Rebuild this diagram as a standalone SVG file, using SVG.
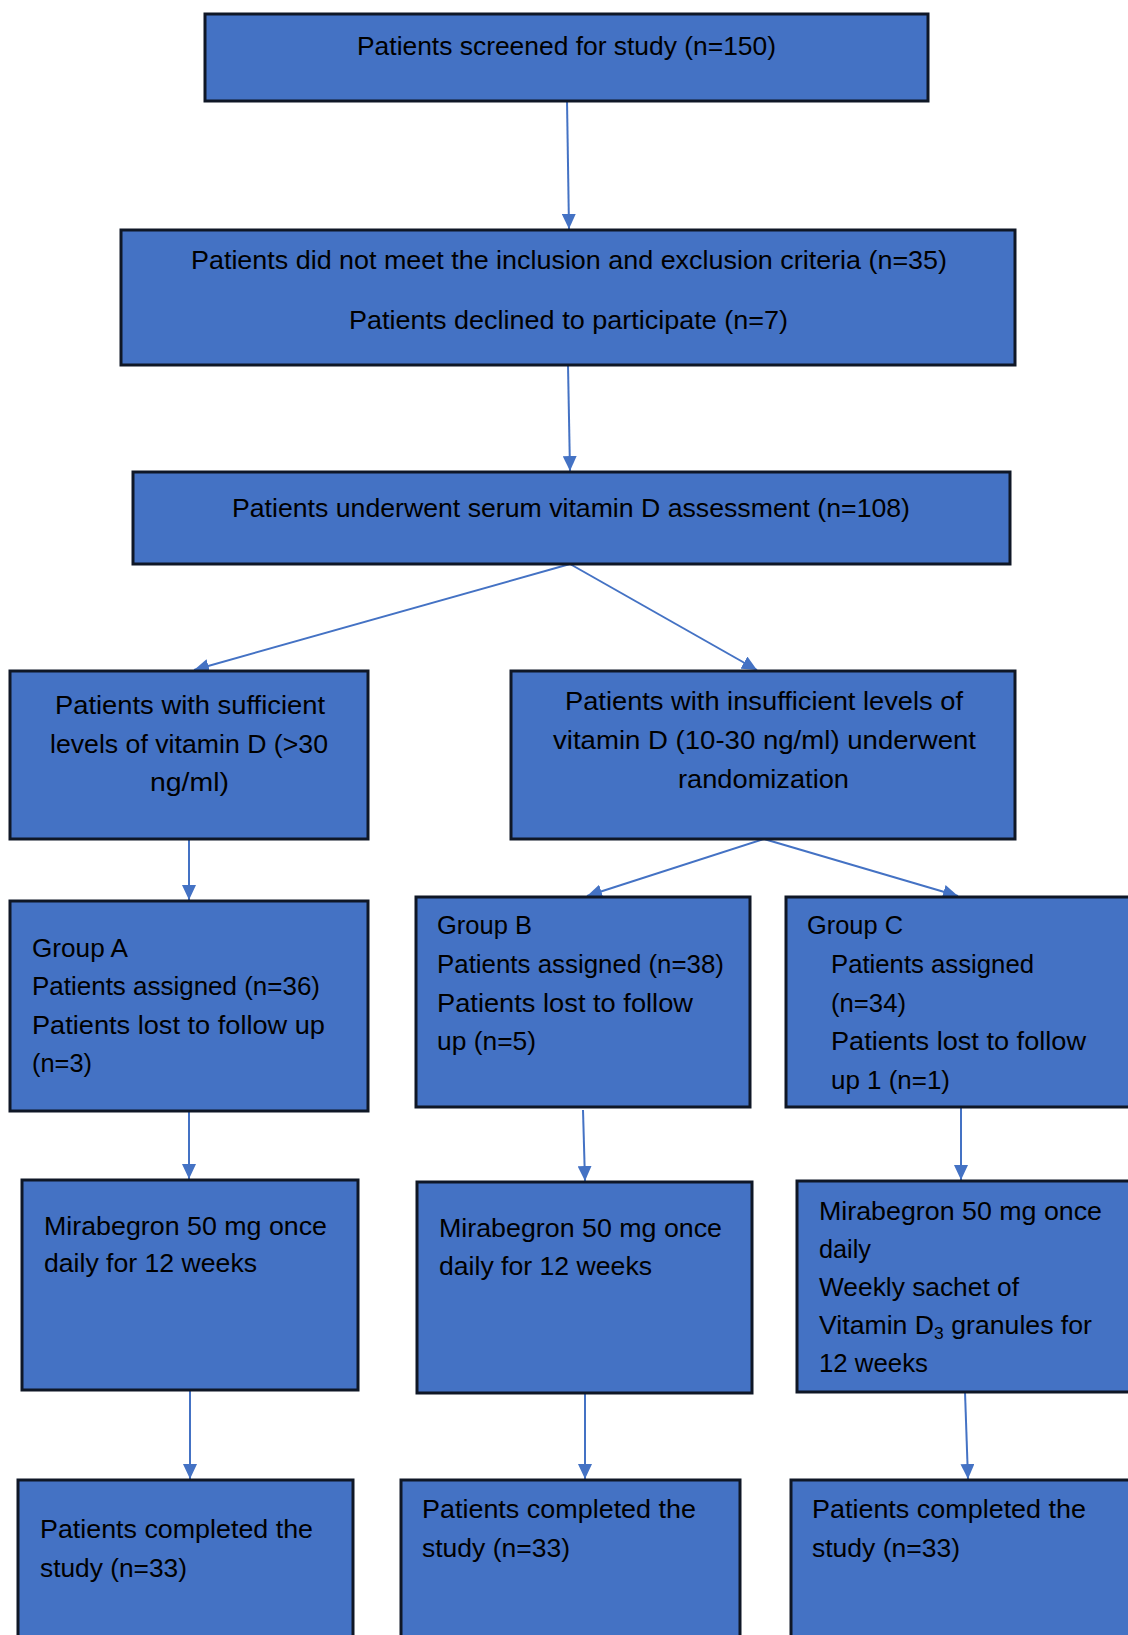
<svg xmlns="http://www.w3.org/2000/svg" width="1128" height="1635" viewBox="0 0 1128 1635">
<style>
.box{fill:#4472C4;stroke:#0f1726;stroke-width:3}
.t{font-family:"Liberation Sans",Arial,sans-serif;font-size:26px;fill:#000}
.c{stroke:#4472C4;stroke-width:2;fill:none;marker-end:url(#ah)}
</style>
<defs>
<marker id="ah" viewBox="0 0 15 14" markerWidth="15" markerHeight="14" refX="15" refY="7" orient="auto" markerUnits="userSpaceOnUse">
<path d="M0,0 L15,7 L0,14 z" fill="#4472C4"/>
</marker>
</defs>
<rect width="1128" height="1635" fill="#fff"/>
<g id="connectors">
<line class="c" x1="567" y1="100" x2="569" y2="229"/>
<line class="c" x1="568" y1="365" x2="570" y2="471"/>
<line class="c" x1="570" y1="564" x2="194" y2="670"/>
<line class="c" x1="570" y1="564" x2="757" y2="670"/>
<line class="c" x1="189" y1="840" x2="189" y2="900"/>
<line class="c" x1="764" y1="839" x2="587" y2="896"/>
<line class="c" x1="764" y1="839" x2="958" y2="896"/>
<line class="c" x1="189" y1="1112" x2="189" y2="1179"/>
<line class="c" x1="583" y1="1110" x2="585" y2="1181"/>
<line class="c" x1="961" y1="1106" x2="961" y2="1180"/>
<line class="c" x1="190" y1="1390" x2="190" y2="1479"/>
<line class="c" x1="585" y1="1393" x2="585" y2="1479"/>
<line class="c" x1="965" y1="1392" x2="968" y2="1479"/>
</g>
<g id="screened">
<rect class="box" x="205" y="14" width="723" height="87"/>
<text class="t" x="357" y="55" textLength="419" lengthAdjust="spacingAndGlyphs">Patients screened for study (n=150)</text>
</g>
<g id="excluded">
<rect class="box" x="121" y="230" width="894" height="135"/>
<text class="t" x="191" y="269" textLength="756" lengthAdjust="spacingAndGlyphs">Patients did not meet the inclusion and exclusion criteria (n=35)</text>
<text class="t" x="349" y="329" textLength="439" lengthAdjust="spacingAndGlyphs">Patients declined to participate (n=7)</text>
</g>
<g id="assessment">
<rect class="box" x="133" y="472" width="877" height="92"/>
<text class="t" x="232" y="517" textLength="678" lengthAdjust="spacingAndGlyphs">Patients underwent serum vitamin D assessment (n=108)</text>
</g>
<g id="sufficient">
<rect class="box" x="10" y="671" width="358" height="168"/>
<text class="t" x="55" y="714" textLength="270" lengthAdjust="spacingAndGlyphs">Patients with sufficient</text>
<text class="t" x="50" y="753" textLength="278" lengthAdjust="spacingAndGlyphs">levels of vitamin D (&gt;30</text>
<text class="t" x="150" y="791" textLength="79" lengthAdjust="spacingAndGlyphs">ng/ml)</text>
</g>
<g id="insufficient">
<rect class="box" x="511" y="671" width="504" height="168"/>
<text class="t" x="565" y="710" textLength="398" lengthAdjust="spacingAndGlyphs">Patients with insufficient levels of</text>
<text class="t" x="553" y="749" textLength="423" lengthAdjust="spacingAndGlyphs">vitamin D (10-30 ng/ml) underwent</text>
<text class="t" x="678" y="788" textLength="171" lengthAdjust="spacingAndGlyphs">randomization</text>
</g>
<g id="groupA">
<rect class="box" x="10" y="901" width="358" height="210"/>
<text class="t" x="32" y="957" textLength="96" lengthAdjust="spacingAndGlyphs">Group A</text>
<text class="t" x="32" y="995" textLength="288" lengthAdjust="spacingAndGlyphs">Patients assigned (n=36)</text>
<text class="t" x="32" y="1034" textLength="293" lengthAdjust="spacingAndGlyphs">Patients lost to follow up</text>
<text class="t" x="32" y="1072" textLength="60" lengthAdjust="spacingAndGlyphs">(n=3)</text>
</g>
<g id="groupB">
<rect class="box" x="416" y="897" width="334" height="210"/>
<text class="t" x="437" y="934" textLength="95" lengthAdjust="spacingAndGlyphs">Group B</text>
<text class="t" x="437" y="973" textLength="287" lengthAdjust="spacingAndGlyphs">Patients assigned (n=38)</text>
<text class="t" x="437" y="1012" textLength="256" lengthAdjust="spacingAndGlyphs">Patients lost to follow</text>
<text class="t" x="437" y="1050" textLength="99" lengthAdjust="spacingAndGlyphs">up (n=5)</text>
</g>
<g id="groupC">
<rect class="box" x="786" y="897" width="350" height="210"/>
<text class="t" x="807" y="934" textLength="96" lengthAdjust="spacingAndGlyphs">Group C</text>
<text class="t" x="831" y="973" textLength="203" lengthAdjust="spacingAndGlyphs">Patients assigned</text>
<text class="t" x="831" y="1012" textLength="75" lengthAdjust="spacingAndGlyphs">(n=34)</text>
<text class="t" x="831" y="1050" textLength="255" lengthAdjust="spacingAndGlyphs">Patients lost to follow</text>
<text class="t" x="831" y="1089" textLength="119" lengthAdjust="spacingAndGlyphs">up 1 (n=1)</text>
</g>
<g id="treatA">
<rect class="box" x="22" y="1180" width="336" height="210"/>
<text class="t" x="44" y="1235" textLength="283" lengthAdjust="spacingAndGlyphs">Mirabegron 50 mg once</text>
<text class="t" x="44" y="1272" textLength="213" lengthAdjust="spacingAndGlyphs">daily for 12 weeks</text>
</g>
<g id="treatB">
<rect class="box" x="417" y="1182" width="335" height="211"/>
<text class="t" x="439" y="1237" textLength="283" lengthAdjust="spacingAndGlyphs">Mirabegron 50 mg once</text>
<text class="t" x="439" y="1275" textLength="213" lengthAdjust="spacingAndGlyphs">daily for 12 weeks</text>
</g>
<g id="treatC">
<rect class="box" x="797" y="1181" width="340" height="211"/>
<text class="t" x="819" y="1220" textLength="283" lengthAdjust="spacingAndGlyphs">Mirabegron 50 mg once</text>
<text class="t" x="819" y="1258" textLength="52" lengthAdjust="spacingAndGlyphs">daily</text>
<text class="t" x="819" y="1296" textLength="200" lengthAdjust="spacingAndGlyphs">Weekly sachet of</text>
<text class="t" x="819" y="1334" textLength="273" lengthAdjust="spacingAndGlyphs">Vitamin D<tspan font-size="17" dy="5">3</tspan><tspan dy="-5"> granules for</tspan></text>
<text class="t" x="819" y="1372" textLength="109" lengthAdjust="spacingAndGlyphs">12 weeks</text>
</g>
<g id="completedA">
<rect class="box" x="18" y="1480" width="335" height="170"/>
<text class="t" x="40" y="1538" textLength="273" lengthAdjust="spacingAndGlyphs">Patients completed the</text>
<text class="t" x="40" y="1577" textLength="147" lengthAdjust="spacingAndGlyphs">study (n=33)</text>
</g>
<g id="completedB">
<rect class="box" x="401" y="1480" width="339" height="170"/>
<text class="t" x="422" y="1518" textLength="274" lengthAdjust="spacingAndGlyphs">Patients completed the</text>
<text class="t" x="422" y="1557" textLength="148" lengthAdjust="spacingAndGlyphs">study (n=33)</text>
</g>
<g id="completedC">
<rect class="box" x="791" y="1480" width="345" height="170"/>
<text class="t" x="812" y="1518" textLength="274" lengthAdjust="spacingAndGlyphs">Patients completed the</text>
<text class="t" x="812" y="1557" textLength="148" lengthAdjust="spacingAndGlyphs">study (n=33)</text>
</g>
</svg>
